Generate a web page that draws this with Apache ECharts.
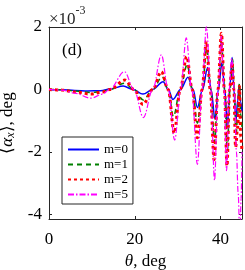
<!DOCTYPE html>
<html>
<head>
<meta charset="utf-8">
<script src="https://cdn.jsdelivr.net/npm/echarts@6/dist/echarts.min.js"></script>
<style>
html,body{margin:0;padding:0;background:#fff;}
#c{width:245px;height:270px;}
</style>
</head>
<body>
<div id="c"></div>
<script>
// values in units of 1e-3 deg
var thetaM0 = [0, 3, 6, 9, 12, 14.5, 17.3, 19.6, 21.9, 24.2, 26.6, 27.8, 28.9, 30.7, 32.4, 33.6, 34.6, 35.8, 37.0, 37.8, 38.7, 39.5, 40.3, 41.0, 41.6, 42.1, 42.7, 43.1, 43.6, 44.0, 44.3, 44.7, 45];
var alphaM0 = [0, -0.01, -0.03, -0.05, -0.04, 0.02, 0.11, 0, -0.15, 0, 0.25, 0, -0.32, 0, 0.39, 0, -0.58, 0, 0.70, 0, -0.95, 0, 0.85, 0, -1.25, 0, 1.02, 0, -1.0, -0.35, 0.12, -0.4, -0.7];

var thetaM1 = [0, 3, 6, 9.8, 12.5, 14.3, 17.6, 19.8, 22.0, 24.2, 26.4, 27.8, 29.0, 30.6, 32.2, 33.4, 34.6, 35.7, 36.8, 37.7, 38.6, 39.4, 40.2, 40.9, 41.6, 42.2, 42.8, 43.2, 43.6, 44.0, 44.4, 44.7, 45];
var alphaM1 = [0, -0.01, -0.05, -0.10, -0.06, 0, 0.20, 0, -0.34, 0, 0.41, 0, -0.87, 0, 0.79, 0, -1.08, 0, 1.33, 0, -1.68, 0, 1.60, 0, -1.95, 0, 0.97, 0, -1.5, -0.8, 0.2, -0.8, -1.2];

var thetaM2 = [0, 3, 6, 9.8, 12.5, 14.2, 17.7, 19.8, 21.9, 24.2, 26.2, 27.8, 29.2, 30.6, 32.1, 33.4, 34.6, 35.7, 36.7, 37.6, 38.5, 39.4, 40.2, 40.9, 41.5, 42.1, 42.7, 43.1, 43.5, 44.0, 44.4, 44.7, 45];
var alphaM2 = [0, -0.02, -0.08, -0.15, -0.08, 0, 0.30, 0, -0.48, 0, 0.57, 0, -1.40, 0, 1.05, 0, -1.55, 0, 1.55, 0, -2.25, 0, 1.80, 0, -2.45, 0, 0.85, 0, -1.85, -1.2, 0.1, -1.5, -2.0];

var thetaM5 = [0, 3, 6, 9.8, 12.5, 14.1, 17.6, 19.8, 22.0, 24.2, 26.2, 27.8, 29.3, 30.7, 32.0, 33.3, 34.6, 35.7, 36.7, 37.7, 38.6, 39.4, 40.2, 40.8, 41.4, 42.0, 42.6, 43.2, 43.7, 44.1, 44.5, 44.8, 45];
var alphaM5 = [0, -0.02, -0.12, -0.28, -0.15, 0, 0.57, 0, -0.90, 0, 1.11, 0, -1.62, 0, 1.65, 0, -2.40, 0, 2.02, 0, -2.91, 0, 1.70, 0, -2.60, 0, 1.0, 0, -2.0, -3.3, -4.8, -3.5, -2.0];

var seriesNames = ['m=0', 'm=1', 'm=2', 'm=5'];
var xTicks = [0, 20, 40];
var yTicks = [-4, -2, 0, 2];

function pairs(xs, ys) { return xs.map(function (x, i) { return [x, ys[i]]; }); }

var FONT = 'Liberation Serif';
var AX = '#262626';

var chart = echarts.init(document.getElementById('c'), null, {renderer: 'canvas'});

var baseSeries = function (name, data, color, width, type, z) {
  return {
    name: name, type: 'line', data: data, showSymbol: false, symbol: 'none',
    smooth: 0.35, smoothMonotone: 'x', clip: true, z: z,
    lineStyle: {color: color, width: width, type: type, cap: 'butt'},
    itemStyle: {color: color}
  };
};

chart.setOption({
  animation: false,
  backgroundColor: '#fff',
  grid: {left: 49, right: 3, top: 27, bottom: 51, show: false, outerBoundsMode: 'none', containLabel: false},
  legend: {
    show: true, orient: 'vertical', left: 62, top: 137,
    data: seriesNames,
    backgroundColor: '#fff', borderColor: '#262626', borderWidth: 1, borderRadius: 0,
    padding: [6, 5, 3, 5],
    itemWidth: 31, itemHeight: 10, itemGap: 2, selectedMode: false,
    itemStyle: {opacity: 0},
    textStyle: {fontFamily: FONT, fontSize: 13, color: '#000', lineHeight: 13, padding: [0, 0, 0, 0]}
  },
  xAxis: [{
    type: 'value', min: 0, max: 45, interval: 20, position: 'bottom',
    axisLine: {show: true, onZero: false, lineStyle: {color: AX, width: 1}},
    axisTick: {show: true, inside: true, length: 3, lineStyle: {color: AX}},
    axisLabel: {fontFamily: FONT, fontSize: 17, color: '#000', margin: 12,
      customValues: xTicks},
    splitLine: {show: false},
    name: '{i|θ}{r|, deg}', nameLocation: 'middle', nameGap: 33,
    nameTextStyle: {rich: {
      i: {fontFamily: FONT, fontSize: 17, fontStyle: 'italic', color: '#000'},
      r: {fontFamily: FONT, fontSize: 17, color: '#000'}
    }}
  }, {
    type: 'value', min: 0, max: 45, interval: 20, position: 'top',
    axisLine: {show: true, onZero: false, lineStyle: {color: AX, width: 1}},
    axisTick: {show: true, inside: true, length: 3, lineStyle: {color: AX}},
    axisLabel: {show: false}, splitLine: {show: false}
  }],
  yAxis: [{
    type: 'value', min: -4.15, max: 2, position: 'left',
    axisLine: {show: true, onZero: false, lineStyle: {color: AX, width: 1}},
    axisTick: {show: true, inside: true, length: 3, lineStyle: {color: AX}, customValues: yTicks},
    axisLabel: {fontFamily: FONT, fontSize: 17, color: '#000', margin: 7, customValues: yTicks},
    splitLine: {show: false},
    name: '{a|⟨}{al|α}{s|x}{a|⟩, deg}', nameLocation: 'middle', nameGap: 28, nameRotate: 90,
    nameTextStyle: {rich: {
      a: {fontFamily: FONT, fontSize: 17, color: '#000'},
      al: {fontFamily: FONT, fontSize: 17, fontStyle: 'italic', color: '#000'},
      s: {fontFamily: FONT, fontSize: 12, fontStyle: 'italic', color: '#000', verticalAlign: 'bottom', padding: [6, 0, 0, 0]}
    }}
  }, {
    type: 'value', min: -4.15, max: 2, position: 'right',
    axisLine: {show: true, onZero: false, lineStyle: {color: AX, width: 1}},
    axisTick: {show: true, inside: true, length: 3, lineStyle: {color: AX}, customValues: yTicks},
    axisLabel: {show: false}, splitLine: {show: false}
  }],
  graphic: [
    {type: 'text', left: 49, top: 5, style: {
      text: '{a|×10}{b|-3}', rich: {
        a: {fontFamily: FONT, fontSize: 17, fill: '#262626', padding: [6, 0, 0, 0]},
        b: {fontFamily: FONT, fontSize: 12, fill: '#262626', verticalAlign: 'top'}
      }}},
    {type: 'text', left: 62, top: 42, style: {text: '(d)', fontFamily: FONT, fontSize: 17, fill: '#000'}}
  ],
  series: [
    baseSeries('m=0', pairs(thetaM0, alphaM0), '#0000ff', 1.5, 'solid', 2),
    baseSeries('m=1', pairs(thetaM1, alphaM1), '#008000', 1.5, [5, 4], 3),
    baseSeries('m=2', pairs(thetaM2, alphaM2), '#ff0000', 3, [3, 3], 4),
    baseSeries('m=5', pairs(thetaM5, alphaM5), '#ff00ff', 1.2, [6, 2, 1.5, 2], 5)
  ]
});
</script>
</body>
</html>
